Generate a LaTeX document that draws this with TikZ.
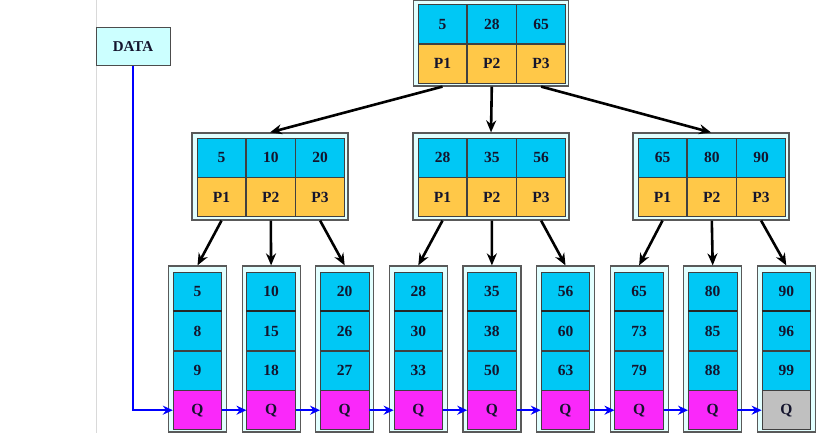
\documentclass[tikz,border=0pt]{standalone}
\usepackage{fontspec}
\setmainfont{Liberation Serif}
\usetikzlibrary{arrows.meta, positioning, calc}

\definecolor{keycyan}{RGB}{0,200,245}
\definecolor{ptryellow}{RGB}{255,200,72}
\definecolor{qmagenta}{RGB}{250,40,250}
\definecolor{qgray}{RGB}{192,192,192}
\definecolor{framecyan}{RGB}{226,255,255}
\definecolor{datacyan}{RGB}{204,255,255}
\definecolor{textnavy}{RGB}{20,20,45}

\begin{document}
\begin{tikzpicture}[x=1pt, y=-1pt,
  frame/.style  = {draw=black!65, line width=1.2pt, fill=framecyan, inner sep=0pt},
  cell/.style   = {draw=black!75, line width=0.8pt, minimum width=48.5pt,
                   minimum height=38.8pt, inner sep=0pt, text=textnavy,
                   font=\fontsize{15.5}{17}\selectfont\bfseries},
  key/.style    = {cell, fill=keycyan},
  ptr/.style    = {cell, fill=ptryellow},
  data/.style   = {draw=black!70, line width=1pt, fill=datacyan, minimum width=74pt,
                   minimum height=38pt, text=textnavy,
                   font=\fontsize{15}{17}\selectfont\bfseries},
  arr/.style    = {-{Stealth[length=12pt, width=10pt]}, line width=2.6pt},
  link/.style   = {-{Stealth[length=10pt, width=9pt]}, line width=2.5pt, blue},
]
\useasboundingbox (0,0) rectangle (838,433);

% page edge
\coordinate (edgetop) at (96,0);
\coordinate (edgebot) at (96,433);
\draw[black!15, line width=0.8pt] (edgetop) -- (edgebot);

\node[data] (data) at (133,47) {DATA};

% root
\node[frame, minimum width=155pt, minimum height=86pt] (root) at (491,43) {};
\node[key] (r1) at (442.5,24.2) {5};
\node[key, right=0pt of r1] (r2) {28};
\node[key, right=0pt of r2] (r3) {65};
\node[ptr, below=0pt of r1] (rp1) {P1};
\node[ptr, below=0pt of r2] (rp2) {P2};
\node[ptr, below=0pt of r3] (rp3) {P3};

% second level
\node[frame, minimum width=156pt, minimum height=87pt] (n1) at (270,176.5) {};
\node[key] (n1k1) at (221.5,157.6) {5};
\node[key, right=0pt of n1k1] (n1k2) {10};
\node[key, right=0pt of n1k2] (n1k3) {20};
\node[ptr, below=0pt of n1k1] (n1p1) {P1};
\node[ptr, below=0pt of n1k2] (n1p2) {P2};
\node[ptr, below=0pt of n1k3] (n1p3) {P3};

\node[frame, minimum width=156pt, minimum height=87pt] (n2) at (491,176.5) {};
\node[key] (n2k1) at (442.5,157.6) {28};
\node[key, right=0pt of n2k1] (n2k2) {35};
\node[key, right=0pt of n2k2] (n2k3) {56};
\node[ptr, below=0pt of n2k1] (n2p1) {P1};
\node[ptr, below=0pt of n2k2] (n2p2) {P2};
\node[ptr, below=0pt of n2k3] (n2p3) {P3};

\node[frame, minimum width=156pt, minimum height=87pt] (n3) at (711,176.5) {};
\node[key] (n3k1) at (662.5,157.6) {65};
\node[key, right=0pt of n3k1] (n3k2) {80};
\node[key, right=0pt of n3k2] (n3k3) {90};
\node[ptr, below=0pt of n3k1] (n3p1) {P1};
\node[ptr, below=0pt of n3k2] (n3p2) {P2};
\node[ptr, below=0pt of n3k3] (n3p3) {P3};

% leaves
\foreach \i/\ka/\kb/\kc/\qc in {1/5/8/9/qmagenta, 2/10/15/18/qmagenta,
    3/20/26/27/qmagenta, 4/28/30/33/qmagenta, 5/35/38/50/qmagenta,
    6/56/60/63/qmagenta, 7/65/73/79/qmagenta, 8/80/85/88/qmagenta,
    9/90/96/99/qgray} {
  \node[frame, minimum width=58pt, minimum height=166pt] (l\i) at ({197.5+73.6*(\i-1)},349) {};
  \node[key] (l\i a) at ({197.5+73.6*(\i-1)},291.4) {\ka};
  \node[key, below=0pt of l\i a] (l\i b) {\kb};
  \node[key, below=0pt of l\i b] (l\i c) {\kc};
  \node[cell, fill=\qc, below=0pt of l\i c] (l\i q) {Q};
  \draw[line width=2pt, black!85] (l\i a.south west) -- (l\i a.south east);
}

% pointers
\draw[arr] (rp1 |- root.south) -- (n1.north);
\draw[arr] (rp2 |- root.south) -- (n2.north);
\draw[arr] (rp3 |- root.south) -- (n3.north);
\foreach \n in {1,2,3}
  \foreach \p in {1,2,3} {
    \pgfmathtruncatemacro\l{3*(\n-1)+\p}
    \draw[arr] (n\n p\p |- n\n.south) -- (l\l.north);
  }

% leaf chain
\draw[link] (data.south) |- (l1q.west);
\foreach \i [evaluate=\i as \j using int(\i+1)] in {1,...,8}
  \draw[link] (l\i q.east) -- (l\j q.west);

\end{tikzpicture}
\end{document}
